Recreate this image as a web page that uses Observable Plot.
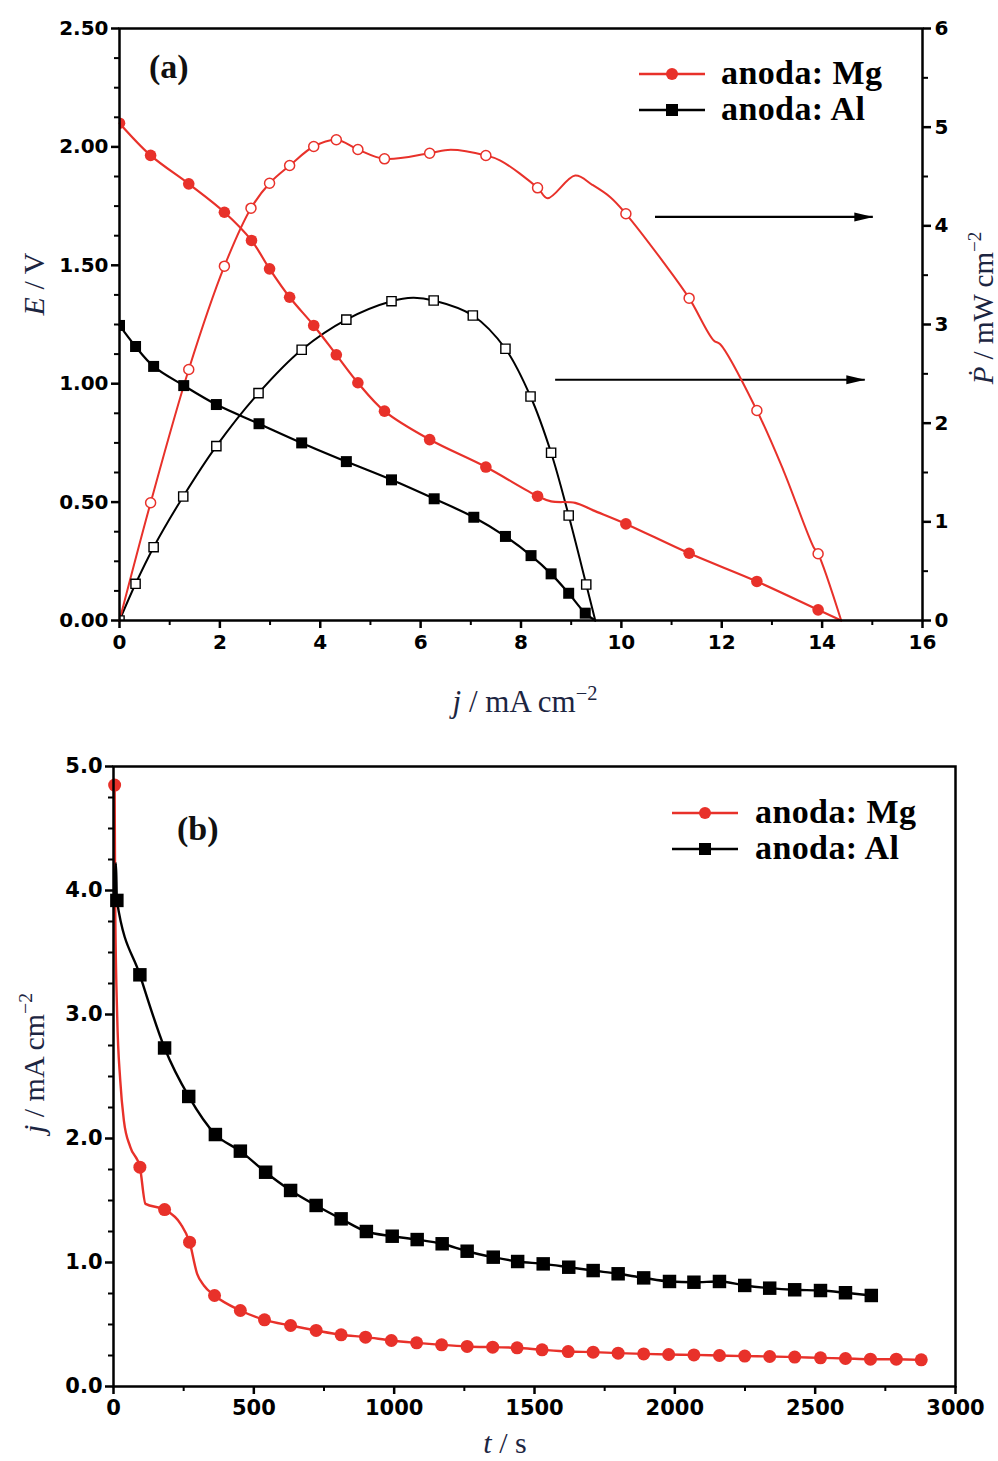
<!DOCTYPE html>
<html><head><meta charset="utf-8">
<script src="https://cdn.jsdelivr.net/npm/d3@7"></script>
<script src="https://cdn.jsdelivr.net/npm/@observablehq/plot@0.6"></script>
<style>
html,body{margin:0;padding:0;background:#fff;}
#chart svg{display:block;}
</style></head><body><div id="chart"></div>
<script>
// ---------- Panel (a): polarisation & power curves ----------
// Mg anode, cell voltage E (V) vs j (mA cm-2): measured markers + extra line points
const mgE_markJ = [0, 0.62, 1.38, 2.09, 2.63, 2.99, 3.39, 3.87, 4.32, 4.75, 5.28, 6.18, 7.30, 8.33, 10.09, 11.35, 12.70, 13.92];
const mgE_markV = [2.10, 1.964, 1.844, 1.724, 1.605, 1.485, 1.365, 1.246, 1.122, 1.004, 0.884, 0.764, 0.648, 0.525, 0.408, 0.284, 0.165, 0.045];
const mgE_lineJ = [8.6, 9.08, 9.44, 14.38];
const mgE_lineV = [0.503, 0.497, 0.465, 0.0];
// Mg anode, power density P (mW cm-2)
const mgP_markJ = [0.62, 1.38, 2.09, 2.62, 2.99, 3.39, 3.87, 4.32, 4.75, 5.28, 6.18, 7.30, 8.33, 10.09, 11.35, 12.70, 13.92];
const mgP_markP = [1.193, 2.544, 3.591, 4.179, 4.432, 4.611, 4.804, 4.872, 4.774, 4.679, 4.736, 4.713, 4.385, 4.122, 3.267, 2.128, 0.676];
const mgP_lineJ = [0, 6.6, 7.59, 8.53, 9.08, 9.42, 9.78, 10.84, 11.84, 11.97, 13.23, 13.83, 14.38];
const mgP_lineP = [0, 4.77, 4.662, 4.28, 4.51, 4.416, 4.29, 3.63, 2.838, 2.80, 1.52, 0.743, 0];
// Al anode, E
const alE_markJ = [0, 0.32, 0.68, 1.28, 1.93, 2.78, 3.63, 4.52, 5.42, 6.27, 7.06, 7.69, 8.20, 8.60, 8.95, 9.28];
const alE_markV = [1.246, 1.157, 1.073, 0.992, 0.912, 0.831, 0.750, 0.671, 0.594, 0.514, 0.436, 0.355, 0.274, 0.197, 0.115, 0.031];
const alE_lineJ = [9.48];
const alE_lineV = [0];
// Al anode, P
const alP_markJ = [0, 0.32, 0.68, 1.27, 1.93, 2.77, 3.63, 4.52, 5.42, 6.26, 7.04, 7.69, 8.19, 8.60, 8.95, 9.30];
const alP_markP = [0, 0.372, 0.743, 1.257, 1.767, 2.304, 2.744, 3.05, 3.236, 3.243, 3.091, 2.754, 2.27, 1.70, 1.064, 0.365];
const alP_lineJ = [5.85, 9.48];
const alP_lineP = [3.27, 0];
// arrows pointing to the right (power) axis
const arrowP = [4.09, 2.44];
const arrowFrom = [10.68, 8.69];
const arrowTo = [15.02, 14.86];
// axis ticks
const aXTicks = [0, 2, 4, 6, 8, 10, 12, 14, 16];
const aXMinor = [1, 3, 5, 7, 9, 11, 13, 15];
const aETicks = [0, 0.5, 1.0, 1.5, 2.0, 2.5];
const aEMinor = [0.125, 0.25, 0.375, 0.625, 0.75, 0.875, 1.125, 1.25, 1.375, 1.625, 1.75, 1.875, 2.125, 2.25, 2.375];
const aPTicks = [0, 1, 2, 3, 4, 5, 6];
const aPMinor = [0.5, 1.5, 2.5, 3.5, 4.5, 5.5];

// ---------- Panel (b): chronoamperometry ----------
const mgB_markT = [4, 94, 182, 271, 360, 452, 538, 631, 722, 811, 898, 990, 1080, 1169, 1260, 1351, 1438, 1527, 1620, 1709, 1798, 1889, 1978, 2068, 2159, 2249, 2338, 2427, 2519, 2608, 2697, 2789, 2878];
const mgB_markJ = [4.85, 1.769, 1.427, 1.164, 0.734, 0.613, 0.538, 0.492, 0.452, 0.417, 0.398, 0.371, 0.352, 0.336, 0.323, 0.317, 0.312, 0.296, 0.282, 0.277, 0.269, 0.263, 0.258, 0.255, 0.25, 0.245, 0.242, 0.237, 0.231, 0.226, 0.22, 0.22, 0.215];
const mgB_lineT = [6, 13, 24, 37, 60, 114, 239, 298, 322];
const mgB_lineJ = [3.9, 3.0, 2.47, 2.145, 1.93, 1.473, 1.312, 0.909, 0.815];
const alB_markT = [12, 94, 182, 268, 363, 452, 542, 631, 722, 811, 901, 993, 1082, 1171, 1260, 1353, 1440, 1531, 1622, 1709, 1798, 1889, 1981, 2068, 2159, 2249, 2338, 2427, 2519, 2608, 2700];
const alB_markJ = [3.92, 3.32, 2.73, 2.339, 2.032, 1.898, 1.728, 1.581, 1.46, 1.352, 1.25, 1.212, 1.185, 1.151, 1.091, 1.043, 1.008, 0.989, 0.962, 0.935, 0.909, 0.876, 0.847, 0.841, 0.847, 0.815, 0.793, 0.78, 0.774, 0.756, 0.734];
const alB_lineT = [2, 9];
const alB_lineJ = [3.88, 4.22];
const bXTicks = [0, 500, 1000, 1500, 2000, 2500, 3000];
const bXMinor = [250, 750, 1250, 1750, 2250, 2750];
const bYTicks = [0, 1, 2, 3, 4, 5];
const bYMinor = d3.range(0, 5.01, 0.25).filter(v => Math.abs(v - Math.round(v)) > 1e-9);

const legendNames = ["anoda: Mg", "anoda: Al"];

// ---------- helpers ----------
const RED = "#e8312a";
const NAVY = "#1c2541";
const kE = 2.5 / 6; // P -> E-scale mapping for the right axis
const pts = (xs, ys) => xs.map((x, i) => ({x, y: ys[i]}));
const merged = (mx, my, ex, ey) => pts(mx, my).concat(pts(ex, ey)).sort((a, b) => a.x - b.x);
const arrowHead = {draw(ctx) { ctx.moveTo(0, 0); ctx.lineTo(-19, -4.5); ctx.lineTo(-19, 4.5); ctx.closePath(); }};
const baseStyle = {fontFamily: "'DejaVu Sans', sans-serif", fontWeight: "bold", fontSize: "20px", color: "#000", background: "white", overflow: "visible"};
const SERIF = "'Liberation Serif', 'Times New Roman', serif";

function addTitle(svg, x, y, rotate, parts, size) {
  const t = d3.select(svg).append("text")
    .attr("transform", `translate(${x},${y})` + (rotate ? ` rotate(${rotate})` : ""))
    .attr("text-anchor", "middle")
    .attr("font-family", SERIF)
    .attr("font-size", size).attr("font-weight", "normal").attr("fill", NAVY);
  parts.forEach(p => {
    const ts = t.append("tspan").text(p.t);
    if (p.i) ts.attr("font-style", "italic");
    if (p.sup) ts.attr("font-size", size * 0.66).attr("dy", -size * 0.4);
  });
}
function addLegend(svg, x0, y0, gap, textX) {
  const g = d3.select(svg).append("g");
  legendNames.forEach((name, i) => {
    const y = y0 + i * gap, col = i === 0 ? RED : "#000";
    g.append("line").attr("x1", x0).attr("x2", x0 + 66).attr("y1", y).attr("y2", y).attr("stroke", col).attr("stroke-width", 2.5);
    if (i === 0) g.append("circle").attr("cx", x0 + 33).attr("cy", y).attr("r", 6).attr("fill", RED);
    else g.append("rect").attr("x", x0 + 27).attr("y", y - 6).attr("width", 12).attr("height", 12).attr("fill", "#000");
    g.append("text").attr("x", textX).attr("y", y + 10).text(name)
      .attr("text-anchor", "start")
      .attr("font-family", SERIF).attr("font-weight", "bold")
      .attr("font-size", 34).attr("letter-spacing", 0.4).attr("fill", "#000");
  });
}
function addTag(svg, x, y, label) {
  d3.select(svg).append("text").attr("x", x).attr("y", y).text(label)
    .attr("text-anchor", "start")
    .attr("font-family", SERIF).attr("font-weight", "bold")
    .attr("font-size", 34).attr("fill", "#111");
}

// ---------- Panel (a) ----------
const A = Plot.plot({
  width: 998, height: 730,
  marginLeft: 119, marginRight: 76, marginTop: 28, marginBottom: 110,
  x: {domain: [0, 16]},
  y: {domain: [0, 2.5]},
  style: baseStyle,
  marks: [
    Plot.axisX(aXTicks, {tickSize: 8, tickPadding: 6, strokeWidth: 2.5, tickFormat: d => String(d), label: null}),
    Plot.axisX(aXMinor, {tickSize: 5, strokeWidth: 2, tickFormat: () => "", label: null}),
    Plot.axisY(aETicks, {tickSize: 8, tickPadding: 3, strokeWidth: 2.5, tickFormat: d3.format(".2f"), label: null}),
    Plot.axisY(aEMinor, {tickSize: 5, strokeWidth: 2, tickFormat: () => "", label: null}),
    Plot.axisY(aPTicks.map(p => p * kE), {anchor: "right", tickSize: 8, tickPadding: 4, strokeWidth: 2.5, tickFormat: d => String(Math.round(d / kE)), label: null}),
    Plot.axisY(aPMinor.map(p => p * kE), {anchor: "right", tickSize: 5, strokeWidth: 2, tickFormat: () => "", label: null}),
    // arrows
    Plot.ruleY(arrowP.map((p, i) => ({p, a: arrowFrom[i], b: arrowTo[i]})), {y: d => d.p * kE, x1: "a", x2: "b", stroke: "#000", strokeWidth: 2.2}),
    Plot.dot(arrowP.map((p, i) => ({p, b: arrowTo[i]})), {x: "b", y: d => d.p * kE, symbol: arrowHead, fill: "#000", stroke: "none"}),
    // curves
    Plot.line(merged(alP_markJ, alP_markP, alP_lineJ, alP_lineP), {x: "x", y: d => d.y * kE, stroke: "#000", strokeWidth: 2, curve: "catmull-rom"}),
    Plot.line(merged(alE_markJ, alE_markV, alE_lineJ, alE_lineV), {x: "x", y: "y", stroke: "#000", strokeWidth: 2.2, curve: "catmull-rom"}),
    Plot.line(merged(mgP_markJ, mgP_markP, mgP_lineJ, mgP_lineP), {x: "x", y: d => d.y * kE, stroke: RED, strokeWidth: 2, curve: "catmull-rom"}),
    Plot.line(merged(mgE_markJ, mgE_markV, mgE_lineJ, mgE_lineV), {x: "x", y: "y", stroke: RED, strokeWidth: 2.2, curve: "catmull-rom"}),
    Plot.dot(pts(alP_markJ, alP_markP), {x: "x", y: d => d.y * kE, symbol: "square", r: 5.2, fill: "white", stroke: "#000", strokeWidth: 1.4, clip: true}),
    Plot.dot(pts(alE_markJ, alE_markV), {x: "x", y: "y", symbol: "square", r: 6.2, fill: "#000", stroke: "none", clip: true}),
    Plot.dot(pts(mgP_markJ, mgP_markP), {x: "x", y: d => d.y * kE, r: 5, fill: "white", stroke: RED, strokeWidth: 1.5, clip: true}),
    Plot.dot(pts(mgE_markJ, mgE_markV), {x: "x", y: "y", r: 5.8, fill: RED, stroke: "none", clip: true}),
    Plot.frame({stroke: "#000", strokeWidth: 2.5})
  ]
});
addTag(A, 149, 78, "(a)");
addLegend(A, 639, 74, 36, 721);
addTitle(A, 44, 284, -90, [{t: "E", i: true}, {t: " / V"}], 30);
addTitle(A, 993, 308, -90, [{t: "Ṗ", i: true}, {t: " / mW cm"}, {t: "−2", sup: true}], 29);
addTitle(A, 525, 712, 0, [{t: "j", i: true}, {t: " / mA cm"}, {t: "−2", sup: true}], 31);

// ---------- Panel (b) ----------
const B = Plot.plot({
  width: 998, height: 731,
  marginLeft: 113, marginRight: 43, marginTop: 36, marginBottom: 75,
  x: {domain: [0, 3000]},
  y: {domain: [0, 5]},
  style: {...baseStyle, fontSize: "21px"},
  marks: [
    Plot.axisX(bXTicks, {tickSize: 8, tickPadding: 6, strokeWidth: 2.5, tickFormat: d => String(d), label: null}),
    Plot.axisX(bXMinor, {tickSize: 5, strokeWidth: 2, tickFormat: () => "", label: null}),
    Plot.axisY(bYTicks, {tickSize: 8, tickPadding: 3, strokeWidth: 2.5, tickFormat: d3.format(".1f"), label: null}),
    Plot.axisY(bYMinor, {tickSize: 5, strokeWidth: 2, tickFormat: () => "", label: null}),
    Plot.line(merged(mgB_markT, mgB_markJ, mgB_lineT, mgB_lineJ), {x: "x", y: "y", stroke: RED, strokeWidth: 2.4, curve: "monotone-x"}),
    Plot.line(merged(alB_markT, alB_markJ, alB_lineT, alB_lineJ), {x: "x", y: "y", stroke: "#000", strokeWidth: 2.4, curve: "monotone-x"}),
    Plot.dot(pts(alB_markT, alB_markJ), {x: "x", y: "y", symbol: "square", r: 7.6, fill: "#000", stroke: "none"}),
    Plot.dot(pts(mgB_markT, mgB_markJ), {x: "x", y: "y", r: 6.5, fill: RED, stroke: "none"}),
    Plot.frame({stroke: "#000", strokeWidth: 2.5})
  ]
});
addTag(B, 177, 110, "(b)");
addLegend(B, 672, 83, 36, 755);
addTitle(B, 44, 333, -90, [{t: "j", i: true}, {t: " / mA cm"}, {t: "−2", sup: true}], 30);
addTitle(B, 505, 723, 0, [{t: "t", i: true}, {t: " / s"}], 30);

document.getElementById("chart").append(A, B);
</script>
</body></html>
